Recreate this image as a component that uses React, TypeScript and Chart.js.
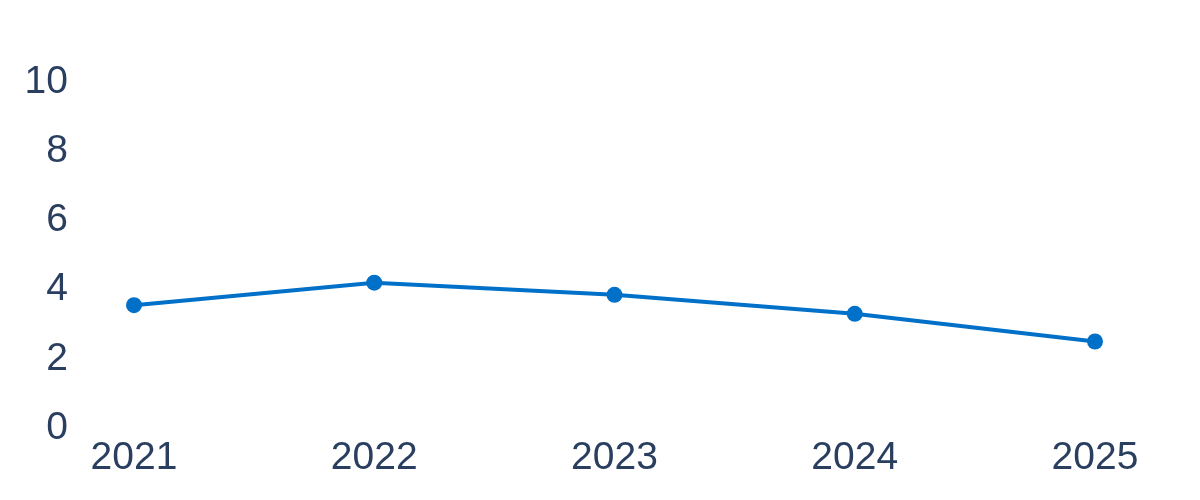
import React, { useEffect, useRef } from "react";
import { Chart, registerables } from "chart.js";

Chart.register(...registerables);

const categories: string[] = ["2021", "2022", "2023", "2024", "2025"];
const seriesValues: number[] = [3.55, 4.2, 3.85, 3.3, 2.5];
const yTicks: number[] = [0, 2, 4, 6, 8, 10];

const LINE_COLOR = "#0070C8";
const TEXT_COLOR = "#2a3f5f";
const FONT = { family: "'Liberation Sans', Arial, sans-serif", size: 39 };

export default function App() {
  const ref = useRef<HTMLCanvasElement | null>(null);

  useEffect(() => {
    if (!ref.current) return;
    const chart = new Chart(ref.current, {
      type: "line",
      data: {
        labels: categories,
        datasets: [
          {
            data: seriesValues,
            borderColor: LINE_COLOR,
            backgroundColor: LINE_COLOR,
            borderWidth: 4,
            pointRadius: 8,
            pointHoverRadius: 8,
            pointBackgroundColor: LINE_COLOR,
            pointBorderWidth: 0,
            tension: 0,
            fill: false,
          },
        ],
      },
      options: {
        animation: false,
        responsive: true,
        maintainAspectRatio: false,
        layout: { padding: { top: 74, right: 97, bottom: 0, left: 18 } },
        plugins: {
          legend: { display: false },
          tooltip: { enabled: false },
          title: { display: false },
        },
        scales: {
          x: {
            offset: false,
            grid: { display: false, drawTicks: false },
            border: { display: false },
            afterFit: (scale: any) => {
              scale.height = 64;
            },
            ticks: {
              color: TEXT_COLOR,
              font: FONT,
              padding: 7,
              maxRotation: 0,
            },
          },
          y: {
            min: yTicks[0],
            max: yTicks[yTicks.length - 1],
            grid: { display: false, drawTicks: false },
            border: { display: false },
            afterFit: (scale: any) => {
              scale.width = 108;
              scale.paddingTop = 20;
              scale.paddingBottom = 20;
            },
            afterBuildTicks: (scale: any) => {
              scale.ticks = yTicks.map((v) => ({ value: v }));
            },
            ticks: {
              color: TEXT_COLOR,
              font: FONT,
              padding: 66,
            },
          },
        },
      },
    });
    return () => chart.destroy();
  }, []);

  return (
    <div style={{ width: "100%", height: "484px", position: "relative" }}>
      <canvas ref={ref} />
    </div>
  );
}
